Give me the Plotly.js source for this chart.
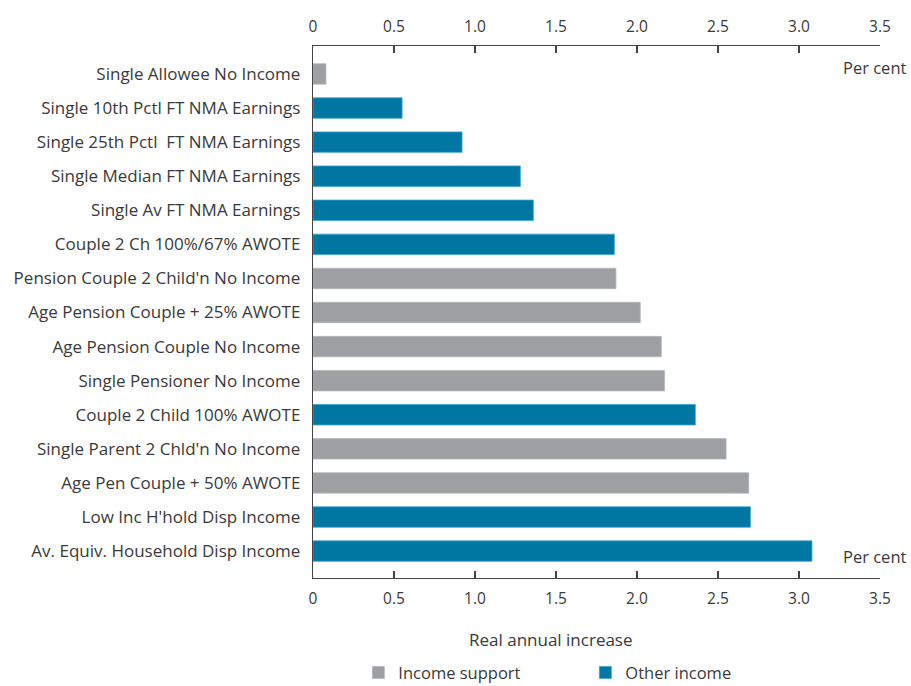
<!DOCTYPE html>
<html>
<head>
<meta charset="utf-8">
<script src="https://cdn.plot.ly/plotly-3.0.1.min.js"></script>
<style>html,body{margin:0;padding:0;background:#fff;}#chart{width:911px;height:686px;}</style>
</head>
<body>
<div id="chart"></div>
<script>
const categories = [
  "Single Allowee No Income",
  "Single 10th Pctl FT NMA Earnings",
  "Single 25th Pctl  FT NMA Earnings",
  "Single Median FT NMA Earnings",
  "Single Av FT NMA Earnings",
  "Couple 2 Ch 100%/67% AWOTE",
  "Pension Couple 2 Child'n No Income",
  "Age Pension Couple + 25% AWOTE",
  "Age Pension Couple No Income",
  "Single Pensioner No Income",
  "Couple 2 Child 100% AWOTE",
  "Single Parent 2 Chld'n No Income",
  "Age Pen Couple + 50% AWOTE",
  "Low Inc H'hold Disp Income",
  "Av. Equiv. Household Disp Income"
];
const values = [0.08, 0.55, 0.92, 1.28, 1.36, 1.86, 1.87, 2.02, 2.15, 2.17, 2.36, 2.55, 2.69, 2.70, 3.08];
const groups = ["Income support","Other income","Other income","Other income","Other income","Other income",
  "Income support","Income support","Income support","Income support","Other income",
  "Income support","Income support","Other income","Other income"];
const seriesNames = ["Income support", "Other income"];
const tickVals = [0, 0.5, 1.0, 1.5, 2.0, 2.5, 3.0, 3.5];
const tickText = ["0", "0.5", "1.0", "1.5", "2.0", "2.5", "3.0", "3.5"];
const colors = {"Income support": "#9d9fa2", "Other income": "#0076a3"};
const edge = {"Income support": "#b4b6b8", "Other income": "#3aa6cf"};

const FONT = "'Open Sans', 'Noto Sans', sans-serif";
const TXT = "#3a3a3a";

const traces = seriesNames.map(name => {
  const ys = [], xs = [];
  categories.forEach((c, i) => { if (groups[i] === name) { ys.push(c); xs.push(values[i]); } });
  return {
    type: "bar", orientation: "h", name: name, x: xs, y: ys,
    marker: {color: colors[name], line: {color: edge[name], width: 0.8}},
    width: 0.6, hoverinfo: "x+y"
  };
});
traces.push({
  type: "scatter", mode: "markers", x: [tickVals[0]], y: [categories[0]],
  xaxis: "x2", marker: {opacity: 0}, showlegend: false, hoverinfo: "skip"
});

const axisCommon = {
  range: [0, 3.5], tickvals: tickVals, ticktext: tickText,
  showline: true, linecolor: "#444", linewidth: 1.2,
  ticks: "inside", ticklen: 7, tickcolor: "#444", tickwidth: 1.2,
  showgrid: false, zeroline: false, automargin: false,
  tickfont: {family: FONT, size: 15.5, color: TXT}, fixedrange: true
};

const layout = {
  width: 911, height: 686,
  margin: {l: 313, r: 31, t: 46, b: 108, autoexpand: false},
  paper_bgcolor: "#fff", plot_bgcolor: "#fff",
  barmode: "overlay",
  font: {family: FONT, color: TXT},
  xaxis: Object.assign({}, axisCommon, {side: "bottom", ticklabelstandoff: 6}),
  xaxis2: Object.assign({}, axisCommon, {side: "top", overlaying: "x", matches: "x", ticklabelstandoff: 7}),
  yaxis: {
    type: "category", categoryorder: "array", categoryarray: categories,
    range: [14.79, -0.82], automargin: false,
    showline: true, linecolor: "#444", linewidth: 1.2, ticks: "",
    showgrid: false, zeroline: false, ticklabelstandoff: 8,
    tickfont: {family: FONT, size: 17, color: TXT}, fixedrange: true
  },
  showlegend: true,
  legend: {
    orientation: "h", x: 0.08, xanchor: "left", y: -0.178, yanchor: "middle",
    font: {family: FONT, size: 16.5, color: TXT},
    entrywidth: 182, entrywidthmode: "pixels", traceorder: "normal",
    tracegroupgap: 0
  },
  annotations: [
    {text: "Per cent", xref: "paper", yref: "paper", x: 1, xshift: 29, y: 0.9605,
     xanchor: "right", yanchor: "middle", showarrow: false, font: {family: FONT, size: 16.5, color: TXT}},
    {text: "Per cent", xref: "paper", yref: "paper", x: 1, xshift: 29, y: 0.0395,
     xanchor: "right", yanchor: "middle", showarrow: false, font: {family: FONT, size: 16.5, color: TXT}},
    {text: "Real annual increase", xref: "paper", yref: "paper", x: 0.419, y: -0.115,
     xanchor: "center", yanchor: "middle", showarrow: false, font: {family: FONT, size: 17, color: TXT}}
  ]
};

Plotly.newPlot("chart", traces, layout, {displayModeBar: false, staticPlot: true});
</script>
</body>
</html>
